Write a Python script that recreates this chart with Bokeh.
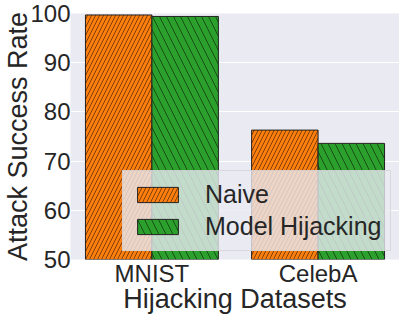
import numpy as np
from bokeh.plotting import figure
from bokeh.models import Range1d, FixedTicker, Legend, LegendItem
from bokeh.embed import file_html
from bokeh.resources import INLINE

datasets = ["MNIST", "CelebA"]
series = ["Naive", "Model Hijacking"]
naive = [99.7, 76.3]
hijack = [99.4, 73.6]
y_ticks = [50, 60, 70, 80, 90, 100]
colors = ["#FF7F0E", "#2CA02C"]
hatches = ["/", "\\"]
hatch_scales = [8, 14]

FONT = "Liberation Sans"
TXT = "#262626"

idx = np.arange(len(datasets))
bar_w = 0.4

p = figure(width=399, height=316, output_backend="svg", toolbar_location=None,
           x_range=Range1d(-0.49, 1.49), y_range=Range1d(50, 100),
           min_border_left=0, min_border_right=0, min_border_top=13, min_border_bottom=0)

p.background_fill_color = "#EAEAF2"
p.border_fill_color = "white"
p.outline_line_color = None

renderers = []
for k, vals in enumerate([naive, hijack]):
    off = (k - 0.5) * bar_w
    r = p.vbar(x=idx + off, top=vals, bottom=0, width=bar_w,
               fill_color=colors[k], line_color="#222222", line_width=1,
               hatch_pattern=hatches[k], hatch_color="black", hatch_weight=0.5,
               hatch_scale=hatch_scales[k])
    renderers.append(r)

p.xgrid.grid_line_color = None
p.ygrid.grid_line_color = "white"
p.ygrid.grid_line_width = 1.2
p.yaxis.ticker = FixedTicker(ticks=y_ticks)
p.xaxis.ticker = FixedTicker(ticks=[int(i) for i in idx])
p.xaxis.major_label_overrides = {int(i): d for i, d in zip(idx, datasets)}

for ax in (p.xaxis[0], p.yaxis[0]):
    ax.axis_line_color = None
    ax.major_tick_line_color = None
    ax.minor_tick_line_color = None
    ax.major_tick_out = 0
    ax.major_tick_in = 0
    ax.major_label_text_font = FONT
    ax.major_label_text_font_size = "24px"
    ax.major_label_text_color = TXT
    ax.axis_label_text_font = FONT
    ax.axis_label_text_font_size = "27px"
    ax.axis_label_text_font_style = "normal"
    ax.axis_label_text_color = TXT
    ax.axis_label_standoff = -6
    ax.major_label_standoff = 0

p.xaxis.axis_label = "Hijacking Datasets"
p.yaxis.axis_label = "Attack Success Rate"

legend = Legend(items=[LegendItem(label=s, renderers=[r]) for s, r in zip(series, renderers)],
                location=(52, 8), orientation="vertical")
legend.label_text_font = FONT
legend.label_text_font_size = "25px"
legend.label_text_color = TXT
legend.glyph_width = 51
legend.glyph_height = 19
legend.label_standoff = 22
legend.padding = 9
legend.spacing = 3
legend.margin = 0
legend.background_fill_color = "#EAEAF2"
legend.background_fill_alpha = 0.8
legend.border_line_color = "#cccccc"
legend.border_line_alpha = 0.6
p.add_layout(legend)

open("out.html", "w").write(file_html(p, INLINE))
